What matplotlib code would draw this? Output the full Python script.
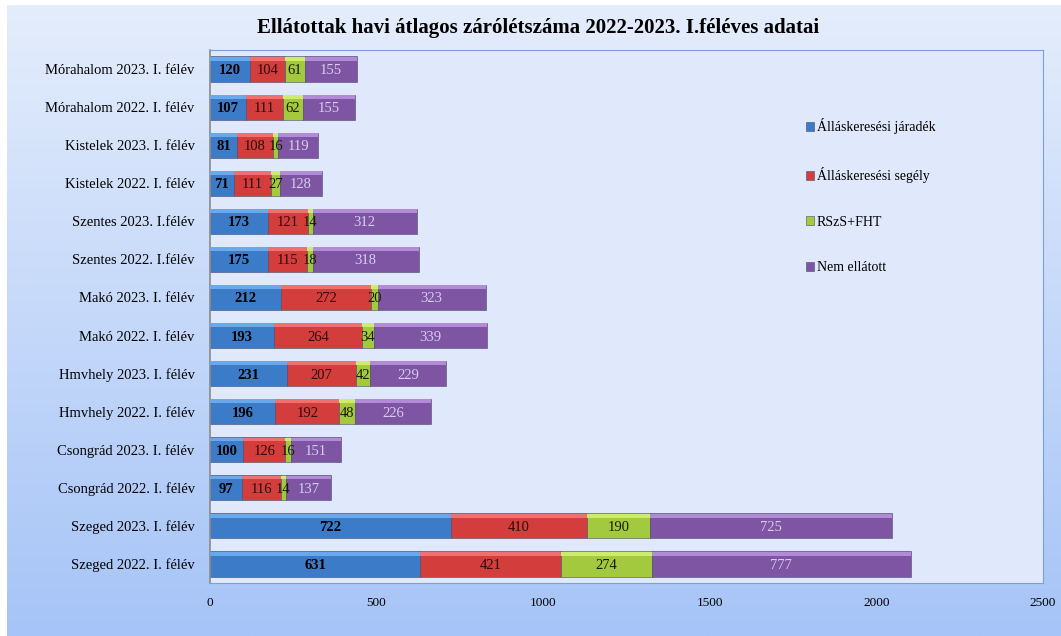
import numpy as np
import matplotlib
matplotlib.use("Agg")
import matplotlib.pyplot as plt
from matplotlib.colors import to_rgb

# data, bottom row first
categories = [
    "Szeged 2022. I. félév", "Szeged 2023. I. félév",
    "Csongrád 2022. I. félév", "Csongrád 2023. I. félév",
    "Hmvhely 2022. I. félév", "Hmvhely 2023. I. félév",
    "Makó 2022. I. félév", "Makó 2023. I. félév",
    "Szentes 2022. I.félév", "Szentes 2023. I.félév",
    "Kistelek 2022. I. félév", "Kistelek 2023. I. félév",
    "Mórahalom 2022. I. félév", "Mórahalom 2023. I. félév",
]
jaradek = [631, 722, 97, 100, 196, 231, 193, 212, 175, 173, 71, 81, 107, 120]
segely = [421, 410, 116, 126, 192, 207, 264, 272, 115, 121, 111, 108, 111, 104]
rszs = [274, 190, 14, 16, 48, 42, 34, 20, 18, 14, 27, 16, 62, 61]
nem = [777, 725, 137, 151, 226, 229, 339, 323, 318, 312, 128, 119, 155, 155]
series_names = ["Álláskeresési járadék", "Álláskeresési segély", "RSzS+FHT", "Nem ellátott"]
xticks = [0, 500, 1000, 1500, 2000, 2500]

colors = ["#3c7bc8", "#d33d3b", "#a3c93f", "#7d55a3"]
light = ["#6aa8ec", "#f07070", "#cdeb6c", "#b38ad8"]
label_colors = ["black", "#2a0a0a", "#1a1a00", "#d8cdf0"]
label_weights = ["bold", "normal", "normal", "normal"]

serif = ["Liberation Serif", "DejaVu Serif"]
plt.rcParams["font.family"] = serif

fig = plt.figure(figsize=(10.61, 6.36), dpi=100)

# gradient background
bg = fig.add_axes([7 / 1061, 0, 1 - 7 / 1061, 1 - 5 / 636], zorder=-10)
grad = np.linspace(0, 1, 256)[:, None]
top = np.array(to_rgb("#e4edfc"))
bot = np.array(to_rgb("#a6c4f7"))
img = top[None, None, :] * (1 - grad[:, :, None]) + bot[None, None, :] * grad[:, :, None]
bg.imshow(img, aspect="auto", extent=[0, 1, 0, 1])
bg.set_axis_off()

ax = fig.add_axes([210 / 1061, 1 - 583 / 636, 833 / 1061, 533 / 636])
ax.set_facecolor("#e0e9fb")

y = np.arange(len(categories))
h = 0.66
left = np.zeros(len(categories))
handles = []
for i, vals in enumerate([jaradek, segely, rszs, nem]):
    vals = np.array(vals)
    b = ax.barh(y, vals, left=left, height=h, color=colors[i],
                edgecolor="#4a4a6a", linewidth=0.4, label=series_names[i], zorder=2)
    # bevel highlight on top
    ax.barh(y + h / 2 - 0.06, vals, left=left, height=0.1, color=light[i],
            linewidth=0, zorder=3)
    handles.append(b)
    for yy, l, v in zip(y, left, vals):
        ax.text(l + v / 2, yy, str(v), ha="center", va="center_baseline", fontsize=10.5,
                color=label_colors[i], fontweight=label_weights[i], zorder=4)
    left = left + vals

ax.set_xlim(0, 2500)
ax.set_ylim(-0.5, len(categories) - 0.5)
ax.set_yticks(y)
ax.set_yticklabels(categories, fontsize=10.5)
ax.set_xticks(xticks)
ax.set_xticklabels([str(t) for t in xticks], fontsize=9.5)
ax.tick_params(axis="y", length=0, pad=11)
ax.tick_params(axis="x", length=0, pad=10)
for s in ["top", "right", "bottom"]:
    ax.spines[s].set_color("#7aa0d4")
ax.spines["left"].set_color("#8a8a8a")
ax.spines["left"].set_linewidth(1.2)

leg = ax.legend(handles=handles, loc="upper left", bbox_to_anchor=(0.70, 0.895),
                frameon=False, fontsize=10, handlelength=0.6, handleheight=0.6,
                labelspacing=2.35, handletextpad=0.2)

fig.text(538 / 1061, 1 - 28 / 636, "Ellátottak havi átlagos zárólétszáma 2022-2023. I.féléves adatai",
         ha="center", va="center", fontsize=15, fontweight="bold")

fig.savefig("out.png", dpi=100)
